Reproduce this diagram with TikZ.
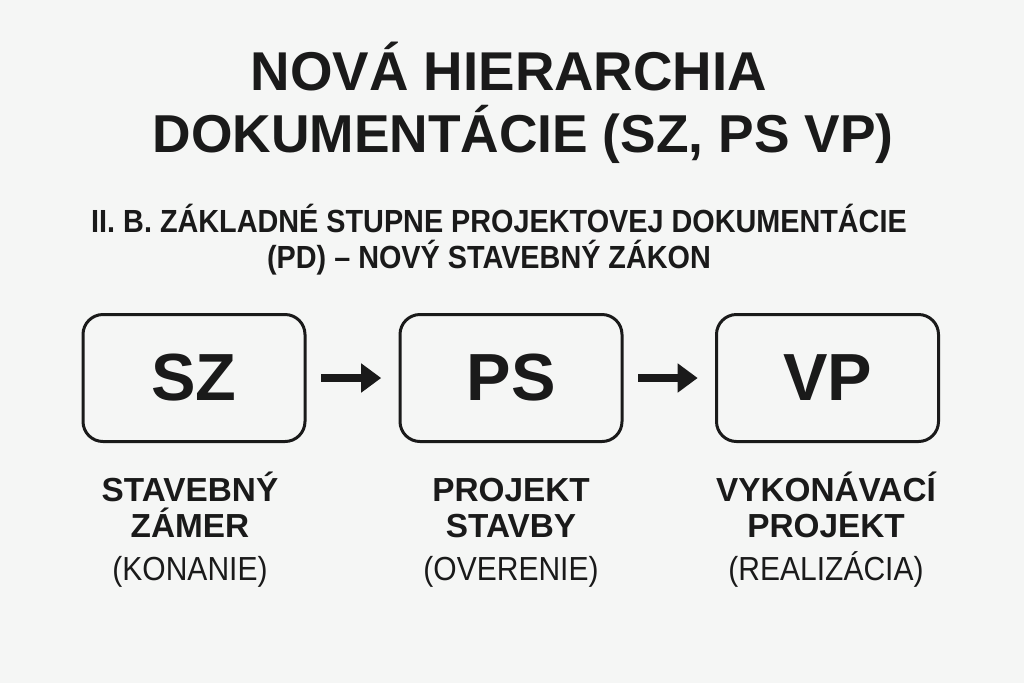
\documentclass[tikz,border=0pt]{standalone}
\usepackage{fontspec}
\setmainfont{Liberation Sans}
\newfontfamily\condfont[FakeStretch=0.9]{Liberation Sans}
\usetikzlibrary{arrows.meta}
\definecolor{fond}{HTML}{F5F6F5}
\definecolor{encre}{HTML}{1A1A1A}
\tikzset{boite/.style={draw=encre,line width=2.25pt,rounded corners=15pt,
    minimum width=166.5pt,minimum height=95.25pt,text=encre,
    font=\bfseries\fontsize{50}{50}\selectfont},
  fleche/.style={draw=encre,line width=6pt,
    -{Triangle[length=15pt,width=21pt]},shorten <=11pt,shorten >=13pt},
  legende/.style={anchor=base,align=center,text=encre,
    font=\bfseries\fontsize{25}{28}\selectfont}
}

\begin{document}
\begin{tikzpicture}[x=0.75pt,y=-0.75pt]
    \fill[fond] (0,0) rectangle (1024,683);
    \useasboundingbox (0,0) rectangle (1024,683);

    % Dessine le titre
    \node[anchor=base,text=encre,font=\bfseries\fontsize{41}{41}\selectfont] (titre1) at (509,90) {NOVÁ HIERARCHIA};
    \node[anchor=base,text=encre,font=\bfseries\fontsize{40}{40}\selectfont] (titre2) at (523,152) {DOKUMENTÁCIE (SZ, PS VP)};
    \node[anchor=base,text=encre,font=\condfont\bfseries\fontsize{24}{24}\selectfont] (sous1) at (499,232) {II. B. ZÁKLADNÉ STUPNE PROJEKTOVEJ DOKUMENTÁCIE};
    \node[anchor=base,text=encre,font=\condfont\bfseries\fontsize{24}{24}\selectfont] (sous2) at (489,268) {(PD) – NOVÝ STAVEBNÝ ZÁKON};

    % Dessine les boîtes
    \node[boite] (sz) at (194,378) {SZ};
    \node[boite] (ps) at (511,378) {PS};
    \node[boite] (vp) at (827.5,378) {VP};

    % Dessine les flèches
    \draw[fleche] (sz.east) -- (ps.west);
    \draw[fleche] (ps.east) -- (vp.west);

    % Légendes
    \node[legende] (szlab) at (190,580) {STAVEBNÝ\\[-0.75pt]ZÁMER\\[4pt]{\condfont\mdseries(KONANIE)}};
    \node[legende] (pslab) at (511,580) {PROJEKT\\[-0.75pt]STAVBY\\[4pt]{\condfont\mdseries(OVERENIE)}};
    \node[legende] (vplab) at (826,580) {VYKONÁVACÍ\\[-0.75pt]PROJEKT\\[4pt]{\condfont\mdseries(REALIZÁCIA)}};
\end{tikzpicture}
\end{document}
